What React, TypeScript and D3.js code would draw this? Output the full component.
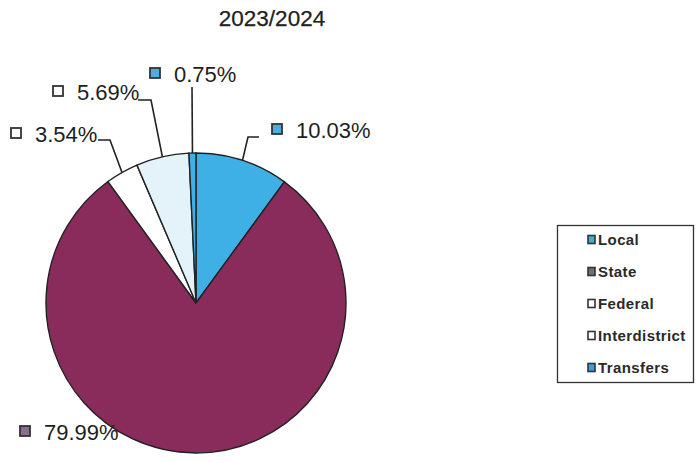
import React from "react";
import * as d3 from "d3";

const title = "2023/2024";
const categories = ["Local", "State", "Federal", "Interdistrict", "Transfers"];
const values = [10.03, 79.99, 3.54, 5.69, 0.75];
const colors = ["#3fb0e6", "#8a2c5b", "#ffffff", "#e4f2fa", "#3fb0e6"];
const labelSquareColors = ["#4aaee0", "#86708a", "#ffffff", "#ffffff", "#4aaee0"];
const legendSquareColors = ["#4aa7d6", "#707070", "#ffffff", "#ffffff", "#3f9fd6"];

// layout for the data labels (square x, text baseline y) and leader elbows
const labelLayout = [
  { sx: 272, by: 138, elbow: [248, 137], hx: 259 },
  { sx: 20, by: 440, elbow: null, hx: null },
  { sx: 11, by: 142, elbow: [110, 140], hx: 98 },
  { sx: 53, by: 100, elbow: [151, 100], hx: 138 },
  { sx: 150, by: 82, elbow: [192, 87], hx: null },
];

const W = 696;
const H = 463;
const cx = 196;
const cy = 303;
const R = 150;

export default function App() {
  const pie = d3.pie<number>().sort(null).value((d) => d)(values);
  const arc = d3.arc<d3.PieArcDatum<number>>().innerRadius(0).outerRadius(R);
  const fmt = (v: number) => `${v.toFixed(2)}%`;

  return (
    <svg
      width={W}
      height={H}
      style={{ position: "absolute", left: 0, top: 0, background: "#fff", fontFamily: "Liberation Sans, Arial, sans-serif" }}
    >
      <text x={272} y={26} textAnchor="middle" fontSize={22.5} fill="#222" stroke="#222" strokeWidth={0.25}>
        {title}
      </text>
      <g transform={`translate(${cx},${cy})`}>
        {pie.map((p, i) => (
          <path key={i} d={arc(p) || ""} fill={colors[i]} stroke="#222" strokeWidth={1.4} />
        ))}
      </g>
      {pie.map((p, i) => {
        const L = labelLayout[i];
        const mid = (p.startAngle + p.endAngle) / 2;
        const ex = cx + R * Math.sin(mid);
        const ey = cy - R * Math.cos(mid);
        let leader = null;
        if (L.elbow) {
          const pts: [number, number][] = [[ex, ey], [L.elbow[0], L.elbow[1]]];
          if (L.hx !== null) pts.push([L.hx, L.elbow[1]]);
          leader = <path d={d3.line()(pts) || ""} fill="none" stroke="#222" strokeWidth={1.6} />;
        }
        return (
          <g key={i}>
            {leader}
            <rect x={L.sx} y={L.by - 14} width={10} height={10} fill={labelSquareColors[i]} stroke="#333" strokeWidth={1.8} />
            <text x={L.sx + 24} y={L.by} fontSize={22} fill="#1e1e1e">
              {fmt(values[i])}
            </text>
          </g>
        );
      })}
      <rect x={557.5} y={225.5} width={136} height={157} fill="#fff" stroke="#333" strokeWidth={1.3} />
      {categories.map((c, i) => (
        <g key={c}>
          <rect x={588} y={235.5 + i * 32} width={7} height={8} fill={legendSquareColors[i]} stroke="#333" strokeWidth={1.6} />
          <text x={598} y={245 + i * 32} fontSize={15} fontWeight="bold" letterSpacing={0.4} fill="#2a2a2a">
            {c}
          </text>
        </g>
      ))}
    </svg>
  );
}
